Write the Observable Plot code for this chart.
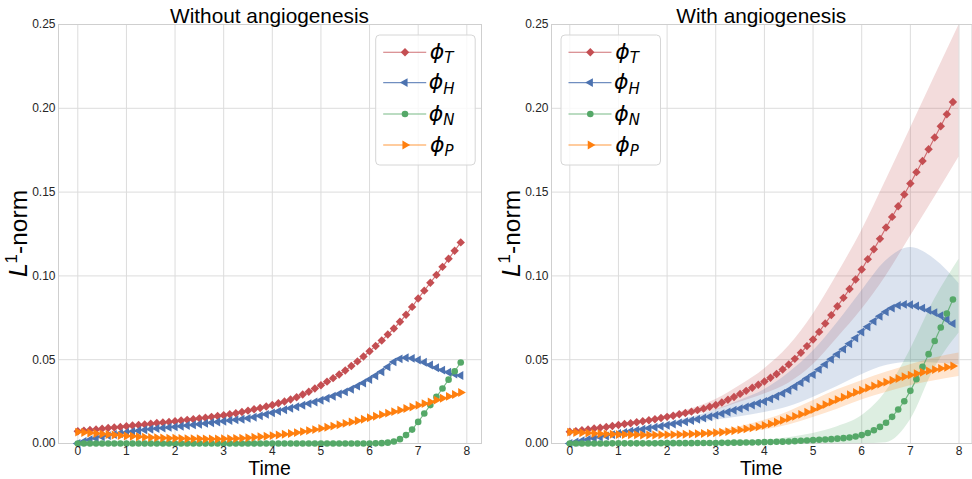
<!DOCTYPE html>
<html>
<head>
<meta charset="utf-8">
<script src="https://cdn.jsdelivr.net/npm/d3@7"></script>
<script src="https://cdn.jsdelivr.net/npm/@observablehq/plot@0.6"></script>
<style>
  body { margin: 0; background: #fff; }
  #fig { display: flex; width: 972px; height: 479px; }
  #fig svg { display: block; }
</style>
</head>
<body>
<div id="fig"></div>
<script>
// Simulation output times (one marker per stored step)
const time = [
  0.000, 0.125, 0.250, 0.375, 0.500, 0.625, 0.750, 0.875,
  1.000, 1.125, 1.250, 1.375, 1.500, 1.625, 1.750, 1.875,
  2.000, 2.125, 2.250, 2.375, 2.500, 2.625, 2.750, 2.875,
  3.000, 3.125, 3.250, 3.375, 3.500, 3.625, 3.750, 3.875,
  4.000, 4.125, 4.250, 4.375, 4.500, 4.625, 4.750, 4.875,
  5.000, 5.125, 5.250, 5.375, 5.500, 5.625, 5.750, 5.875,
  6.000, 6.125, 6.250, 6.375, 6.500, 6.625, 6.750, 6.875,
  7.000, 7.125, 7.250, 7.375, 7.500, 7.625, 7.750, 7.875
];

// L1-norms without angiogenesis
const noAngioT = [
  0.0073, 0.0077, 0.0080, 0.0084, 0.0088, 0.0092, 0.0095, 0.0099,
  0.0103, 0.0107, 0.0110, 0.0114, 0.0118, 0.0122, 0.0125, 0.0129,
  0.0133, 0.0137, 0.0141, 0.0145, 0.0150, 0.0154, 0.0159, 0.0164,
  0.0169, 0.0175, 0.0181, 0.0188, 0.0196, 0.0204, 0.0212, 0.0221,
  0.0230, 0.0240, 0.0251, 0.0263, 0.0276, 0.0292, 0.0309, 0.0328,
  0.0348, 0.0369, 0.0390, 0.0412, 0.0436, 0.0462, 0.0490, 0.0519,
  0.0550, 0.0582, 0.0615, 0.0650, 0.0686, 0.0726, 0.0768, 0.0815,
  0.0865, 0.0912, 0.0959, 0.1006, 0.1054, 0.1102, 0.1150, 0.1200
];
const noAngioH = [
  0.0000, 0.0012, 0.0022, 0.0031, 0.0040, 0.0047, 0.0054, 0.0060,
  0.0066, 0.0071, 0.0076, 0.0081, 0.0085, 0.0089, 0.0092, 0.0096,
  0.0099, 0.0103, 0.0107, 0.0111, 0.0115, 0.0120, 0.0124, 0.0128,
  0.0133, 0.0137, 0.0141, 0.0145, 0.0150, 0.0157, 0.0165, 0.0174,
  0.0183, 0.0192, 0.0201, 0.0210, 0.0219, 0.0228, 0.0238, 0.0248,
  0.0258, 0.0270, 0.0282, 0.0295, 0.0308, 0.0324, 0.0342, 0.0361,
  0.0382, 0.0404, 0.0428, 0.0457, 0.0487, 0.0505, 0.0512, 0.0508,
  0.0498, 0.0485, 0.0468, 0.0452, 0.0438, 0.0425, 0.0414, 0.0406
];
const noAngioN = [
  0.0000, 0.0000, 0.0000, 0.0000, 0.0000, 0.0000, 0.0000, 0.0000,
  0.0000, 0.0000, 0.0000, 0.0000, 0.0000, 0.0000, 0.0000, 0.0000,
  0.0000, 0.0000, 0.0000, 0.0000, 0.0000, 0.0000, 0.0000, 0.0000,
  0.0000, 0.0000, 0.0000, 0.0000, 0.0000, 0.0000, 0.0000, 0.0000,
  0.0000, 0.0000, 0.0000, 0.0000, 0.0000, 0.0000, 0.0000, 0.0000,
  0.0000, 0.0000, 0.0000, 0.0000, 0.0000, 0.0000, 0.0000, 0.0000,
  0.0000, 0.0001, 0.0002, 0.0005, 0.0012, 0.0026, 0.0050, 0.0083,
  0.0129, 0.0179, 0.0229, 0.0278, 0.0328, 0.0381, 0.0431, 0.0483
];
const noAngioP = [
  0.0068, 0.0066, 0.0063, 0.0060, 0.0057, 0.0054, 0.0051, 0.0048,
  0.0045, 0.0043, 0.0040, 0.0038, 0.0036, 0.0035, 0.0033, 0.0032,
  0.0031, 0.0030, 0.0029, 0.0028, 0.0028, 0.0027, 0.0027, 0.0027,
  0.0028, 0.0029, 0.0030, 0.0032, 0.0034, 0.0037, 0.0040, 0.0043,
  0.0047, 0.0051, 0.0055, 0.0060, 0.0065, 0.0071, 0.0077, 0.0083,
  0.0090, 0.0097, 0.0104, 0.0112, 0.0120, 0.0128, 0.0136, 0.0145,
  0.0154, 0.0163, 0.0172, 0.0181, 0.0190, 0.0199, 0.0209, 0.0218,
  0.0228, 0.0238, 0.0248, 0.0259, 0.0270, 0.0281, 0.0292, 0.0304
];

// L1-norms with angiogenesis (ensemble mean)
const angioT = [
  0.0070, 0.0074, 0.0079, 0.0084, 0.0089, 0.0094, 0.0099, 0.0104,
  0.0110, 0.0116, 0.0121, 0.0127, 0.0133, 0.0139, 0.0145, 0.0152,
  0.0159, 0.0166, 0.0174, 0.0182, 0.0190, 0.0199, 0.0208, 0.0219,
  0.0230, 0.0245, 0.0261, 0.0278, 0.0296, 0.0314, 0.0333, 0.0351,
  0.0370, 0.0392, 0.0415, 0.0442, 0.0471, 0.0505, 0.0541, 0.0581,
  0.0620, 0.0666, 0.0716, 0.0766, 0.0819, 0.0869, 0.0922, 0.0979,
  0.1038, 0.1100, 0.1159, 0.1221, 0.1289, 0.1352, 0.1416, 0.1486,
  0.1551, 0.1619, 0.1686, 0.1756, 0.1826, 0.1893, 0.1965, 0.2038
];
const angioH = [
  0.0000, 0.0009, 0.0017, 0.0024, 0.0031, 0.0038, 0.0045, 0.0053,
  0.0060, 0.0066, 0.0073, 0.0079, 0.0085, 0.0091, 0.0097, 0.0103,
  0.0109, 0.0116, 0.0123, 0.0130, 0.0137, 0.0145, 0.0152, 0.0160,
  0.0169, 0.0178, 0.0188, 0.0198, 0.0208, 0.0218, 0.0229, 0.0240,
  0.0251, 0.0266, 0.0282, 0.0299, 0.0318, 0.0340, 0.0363, 0.0388,
  0.0411, 0.0442, 0.0472, 0.0503, 0.0532, 0.0563, 0.0595, 0.0629,
  0.0665, 0.0697, 0.0729, 0.0759, 0.0786, 0.0808, 0.0824, 0.0830,
  0.0828, 0.0820, 0.0808, 0.0795, 0.0781, 0.0763, 0.0740, 0.0715
];
const angioN = [
  0.0000, 0.0000, 0.0000, 0.0000, 0.0000, 0.0000, 0.0000, 0.0001,
  0.0001, 0.0001, 0.0001, 0.0001, 0.0001, 0.0001, 0.0001, 0.0002,
  0.0002, 0.0002, 0.0002, 0.0002, 0.0002, 0.0003, 0.0003, 0.0003,
  0.0003, 0.0004, 0.0004, 0.0005, 0.0005, 0.0006, 0.0006, 0.0007,
  0.0008, 0.0009, 0.0010, 0.0011, 0.0012, 0.0014, 0.0016, 0.0018,
  0.0020, 0.0022, 0.0024, 0.0026, 0.0029, 0.0032, 0.0036, 0.0042,
  0.0050, 0.0063, 0.0079, 0.0099, 0.0124, 0.0159, 0.0203, 0.0252,
  0.0314, 0.0384, 0.0457, 0.0533, 0.0612, 0.0692, 0.0776, 0.0859
];
const angioP = [
  0.0068, 0.0066, 0.0064, 0.0062, 0.0060, 0.0058, 0.0056, 0.0055,
  0.0054, 0.0053, 0.0052, 0.0052, 0.0051, 0.0051, 0.0051, 0.0052,
  0.0052, 0.0053, 0.0054, 0.0055, 0.0057, 0.0058, 0.0060, 0.0062,
  0.0064, 0.0067, 0.0071, 0.0076, 0.0081, 0.0087, 0.0093, 0.0100,
  0.0108, 0.0117, 0.0127, 0.0138, 0.0150, 0.0162, 0.0174, 0.0187,
  0.0202, 0.0217, 0.0232, 0.0247, 0.0262, 0.0276, 0.0291, 0.0305,
  0.0318, 0.0331, 0.0343, 0.0355, 0.0366, 0.0377, 0.0388, 0.0398,
  0.0408, 0.0417, 0.0425, 0.0433, 0.0441, 0.0448, 0.0455, 0.0462
];

// Spread across runs with angiogenesis (lower / upper envelope)
const bandTime = [0, 1, 2, 3, 3.5, 4, 4.5, 5, 5.5, 6, 6.5, 7, 7.5, 8];
const angioTLow  = [0.0068, 0.0105, 0.0150, 0.0198, 0.0246, 0.0295, 0.0360, 0.0470, 0.0630, 0.0800, 0.1000, 0.1235, 0.1470, 0.1710];
const angioTHigh = [0.0072, 0.0115, 0.0168, 0.0262, 0.0346, 0.0445, 0.0580, 0.0770, 0.1010, 0.1270, 0.1570, 0.1880, 0.2190, 0.2497];
const angioHLow  = [0.0000, 0.0055, 0.0098, 0.0140, 0.0160, 0.0185, 0.0220, 0.0275, 0.0340, 0.0410, 0.0465, 0.0485, 0.0480, 0.0470];
const angioHHigh = [0.0002, 0.0065, 0.0122, 0.0200, 0.0256, 0.0320, 0.0420, 0.0550, 0.0720, 0.0910, 0.1090, 0.1170, 0.1100, 0.0955];
const angioNLow  = [0.0000, 0.0000, 0.0000, 0.0000, 0.0000, 0.0000, 0.0000, 0.0000, 0.0000, 0.0000, 0.0005, 0.0140, 0.0450, 0.0660];
const angioNHigh = [0.0000, 0.0002, 0.0004, 0.0008, 0.0012, 0.0020, 0.0035, 0.0060, 0.0100, 0.0165, 0.0310, 0.0560, 0.0860, 0.1100];
const angioPLow  = [0.0066, 0.0050, 0.0045, 0.0052, 0.0065, 0.0080, 0.0110, 0.0155, 0.0205, 0.0260, 0.0305, 0.0345, 0.0375, 0.0400];
const angioPHigh = [0.0070, 0.0058, 0.0060, 0.0078, 0.0100, 0.0138, 0.0190, 0.0255, 0.0320, 0.0375, 0.0425, 0.0470, 0.0510, 0.0540];

// Axis ticks
const xTicks = [0, 1, 2, 3, 4, 5, 6, 7, 8];
const yTicks = [0, 0.05, 0.10, 0.15, 0.20, 0.25];

// Series styling: phase, colour, marker
const phases = [
  {key: "T", color: "#C44E52", symbol: "diamond2", r: 3.8, rotate: 0},
  {key: "H", color: "#4C72B0", symbol: "triangle", r: 3.3, rotate: -90},
  {key: "N", color: "#55A868", symbol: "circle",   r: 3.3, rotate: 0},
  {key: "P", color: "#FF7F0E", symbol: "triangle", r: 3.3, rotate: 90}
];

const W = 486, H = 479, MT = 24, MB = 36;
const FONT = "'Liberation Sans', Arial, sans-serif";

function rowsOf(values) {
  return values.map((v, i) => ({t: time[i], v}));
}
function bandRows(lo, hi) {
  return bandTime.map((t, i) => ({t, lo: lo[i], hi: hi[i]}));
}

function panel({title, series, bands, ml, mr, xDomain, legendX}) {
  const marks = [
    Plot.gridX({ticks: xTicks, stroke: "#dcdcdc", strokeOpacity: 1, strokeWidth: 1}),
    Plot.gridY({ticks: yTicks, stroke: "#dcdcdc", strokeOpacity: 1, strokeWidth: 1}),
    Plot.frame({stroke: "#cfcfcf", strokeWidth: 1})
  ];
  if (bands) {
    phases.forEach((p, k) => {
      marks.push(Plot.areaY(bandRows(bands[k][0], bands[k][1]), {
        x: "t", y1: "lo", y2: "hi", fill: p.color, fillOpacity: 0.2,
        curve: "monotone-x", clip: true
      }));
    });
  }
  phases.forEach((p, k) => {
    const rows = rowsOf(series[k]);
    marks.push(Plot.line(rows, {x: "t", y: "v", stroke: p.color, strokeWidth: 1.1, strokeOpacity: 0.8}));
    marks.push(Plot.dot(rows, {x: "t", y: "v", symbol: p.symbol, r: p.r, fill: p.color, stroke: "none", rotate: p.rotate}));
  });
  marks.push(Plot.axisX({ticks: xTicks, tickSize: 0, tickPadding: 3, fontSize: 12, label: null}));
  marks.push(Plot.axisY({ticks: yTicks, tickSize: 0, tickPadding: 3, fontSize: 12, label: null,
    tickFormat: d => d.toFixed(2)}));

  const chart = Plot.plot({
    width: W, height: H,
    marginLeft: ml, marginRight: mr, marginTop: MT, marginBottom: MB,
    x: {domain: xDomain},
    y: {domain: [0, 0.25]},
    style: {fontFamily: FONT, fontSize: "12px", color: "#262626", background: "#fff", overflow: "visible"},
    marks
  });

  const svg = d3.select(chart);
  const cx = (ml + W - mr) / 2;

  svg.append("text")
    .attr("x", cx).attr("y", 22.5)
    .attr("text-anchor", "middle")
    .attr("fill", "#000")
    .style("font-family", FONT).style("font-size", "20.8px")
    .text(title);

  svg.append("text")
    .attr("x", cx).attr("y", 474.8)
    .attr("text-anchor", "middle")
    .attr("fill", "#000")
    .style("font-family", FONT).style("font-size", "19.4px")
    .text("Time");

  const ylab = svg.append("text")
    .attr("transform", `translate(${ml - 31},${(MT + H - MB) / 2}) rotate(-90)`)
    .attr("text-anchor", "middle")
    .attr("fill", "#000")
    .style("font-family", FONT).style("font-size", "24.5px");
  ylab.append("tspan").style("font-family", "'DejaVu Sans'").style("font-style", "italic").text("L");
  ylab.append("tspan").attr("dy", -10).style("font-size", "17px").text("1");
  ylab.append("tspan").attr("dy", 10).text("-norm");

  // legend
  const lg = svg.append("g").attr("transform", `translate(${legendX},35)`);
  lg.append("rect")
    .attr("width", 99.5).attr("height", 130).attr("rx", 4)
    .attr("fill", "#fff").attr("fill-opacity", 0.8)
    .attr("stroke", "#d6d6d6").attr("stroke-width", 1);
  const rowY = [17.3, 47.6, 79, 110];
  phases.forEach((p, k) => {
    const y = rowY[k];
    lg.append("line")
      .attr("x1", 7.5).attr("x2", 50.5).attr("y1", y).attr("y2", y)
      .attr("stroke", p.color).attr("stroke-width", 1.1).attr("stroke-opacity", 0.8);
    const sym = {diamond2: d3.symbolDiamond2, triangle: d3.symbolTriangle, circle: d3.symbolCircle}[p.symbol];
    lg.append("path")
      .attr("d", d3.symbol(sym, Math.PI * p.r * p.r)())
      .attr("transform", `translate(29.3,${y}) rotate(${p.rotate})`)
      .attr("fill", p.color);
    const t = lg.append("text")
      .attr("x", 66).attr("y", y + 6.5)
      .attr("fill", "#000")
      .style("font-family", "'DejaVu Sans'").style("font-style", "italic").style("font-size", "22px");
    t.append("tspan").text("\u03D5");
    t.append("tspan").attr("dy", 4.5).style("font-size", "15px").text(p.key);
  });

  return chart;
}

const fig = document.getElementById("fig");
fig.appendChild(panel({
  title: "Without angiogenesis",
  series: [noAngioT, noAngioH, noAngioN, noAngioP],
  bands: null,
  ml: 58, mr: 5, xDomain: [-0.397, 8.302], legendX: 375.7
}));
fig.appendChild(panel({
  title: "With angiogenesis",
  series: [angioT, angioH, angioN, angioP],
  bands: [[angioTLow, angioTHigh], [angioHLow, angioHHigh], [angioNLow, angioNHigh], [angioPLow, angioPHigh]],
  ml: 65, mr: 0.5, xDomain: [-0.376, 8.267], legendX: 75
}));
</script>
</body>
</html>
